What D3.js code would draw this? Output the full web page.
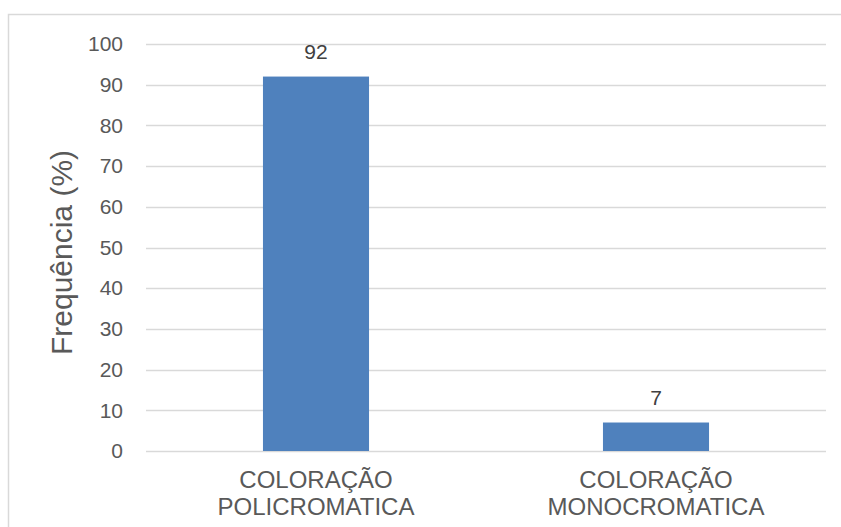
<!DOCTYPE html>
<html>
<head>
<meta charset="utf-8">
<script src="https://cdn.jsdelivr.net/npm/d3@7"></script>
<style>
  body { margin: 0; background: #fff; }
  text { font-family: "Liberation Sans", Arial, sans-serif; }
</style>
</head>
<body>
<div id="chart"></div>
<script>
// Data
const categories = [["COLORAÇÃO", "POLICROMATICA"], ["COLORAÇÃO", "MONOCROMATICA"]];
const values = [92, 7];
const yTicks = [0, 10, 20, 30, 40, 50, 60, 70, 80, 90, 100];

const W = 841, H = 527;
const margin = {top: 44, right: 15, bottom: 76, left: 146};
const width = W - margin.left - margin.right,
    height = H - margin.top - margin.bottom;

const root = d3.select("#chart")
  .append("svg")
    .attr("width", W)
    .attr("height", H)
    .style("display", "block");

// chart border (right and bottom edges fall outside the picture)
root.append("rect")
  .attr("x", 8.5).attr("y", 14.5)
  .attr("width", W + 20).attr("height", H + 20)
  .attr("fill", "none")
  .attr("stroke", "#d9d9d9")
  .attr("stroke-width", 1.5);

const svg = root.append("g")
  .attr("transform", `translate(${margin.left},${margin.top})`);

const x = d3.scaleBand()
  .domain(d3.range(values.length))
  .range([0, width])
  .paddingInner(0.688)
  .paddingOuter(0.344);

const y = d3.scaleLinear()
  .domain([0, 100])
  .range([height, 0]);

// gridlines
svg.append("g")
  .selectAll("line")
  .data(yTicks)
  .join("line")
    .attr("x1", 0)
    .attr("x2", width)
    .attr("y1", d => Math.round(y(d)) + 0.5)
    .attr("y2", d => Math.round(y(d)) + 0.5)
    .attr("stroke", "#d9d9d9")
    .attr("stroke-width", 1.3);

// Y axis labels
const yAxis = svg.append("g")
  .call(d3.axisLeft(y).tickValues(yTicks).tickSize(0).tickPadding(23));
yAxis.select(".domain").remove();
yAxis.selectAll("text")
  .attr("fill", "#595959")
  .style("font-size", "21px")
  .style("font-family", "Liberation Sans, Arial, sans-serif");

// bars
svg.append("g")
  .selectAll("rect")
  .data(values)
  .join("rect")
    .attr("x", (d, i) => x(i))
    .attr("y", d => y(d))
    .attr("width", x.bandwidth())
    .attr("height", d => height - y(d))
    .attr("fill", "#4f81bd");

// data labels
svg.append("g")
  .selectAll("text")
  .data(values)
  .join("text")
    .attr("x", (d, i) => x(i) + x.bandwidth() / 2)
    .attr("y", d => y(d) - 18)
    .attr("text-anchor", "middle")
    .attr("fill", "#404040")
    .style("font-size", "21px")
    .text(d => d);

// category labels
const cat = svg.append("g")
  .selectAll("text")
  .data(categories)
  .join("text")
    .attr("x", (d, i) => x(i) + x.bandwidth() / 2)
    .attr("y", height + 37)
    .attr("text-anchor", "middle")
    .attr("fill", "#595959")
    .style("font-size", "24px");
cat.selectAll("tspan")
  .data(d => d)
  .join("tspan")
    .attr("x", function() { return this.parentNode.getAttribute("x"); })
    .attr("dy", (d, i) => i === 0 ? 0 : 27)
    .text(d => d);

// Y axis title
svg.append("text")
  .attr("transform", `translate(${-146 + 72},${height / 2 + 5}) rotate(-90)`)
  .attr("text-anchor", "middle")
  .attr("fill", "#595959")
  .style("font-size", "30px")
  .text("Frequência (%)");
</script>
</body>
</html>
